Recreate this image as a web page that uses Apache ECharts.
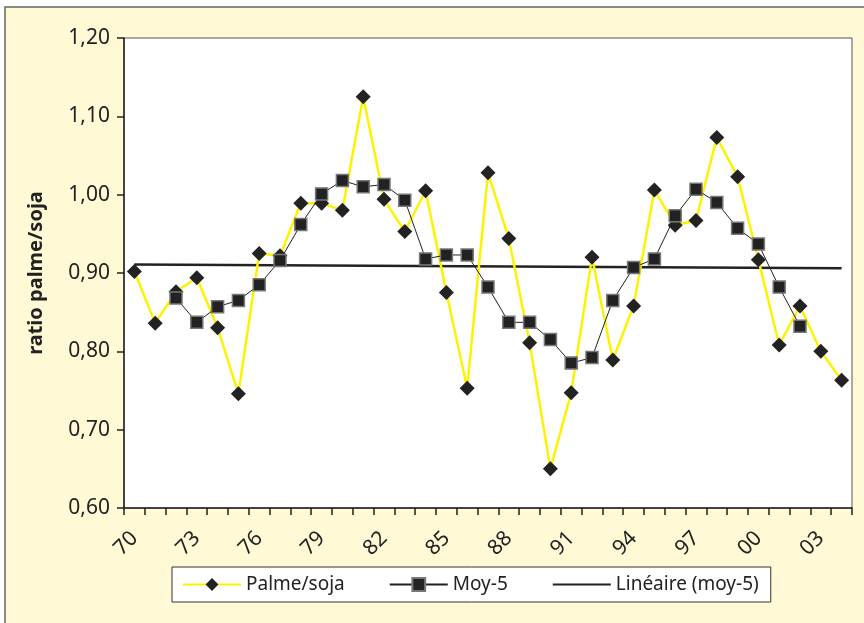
<!DOCTYPE html>
<html><head><meta charset="utf-8">
<script src="https://cdn.jsdelivr.net/npm/echarts@6/dist/echarts.min.js"></script>
<style>html,body{margin:0;padding:0;background:#fff}#c{width:864px;height:623px}</style>
</head><body><div id="c"></div>
<script>
const years = ['70','71','72','73','74','75','76','77','78','79','80','81','82','83','84','85','86','87','88','89','90','91','92','93','94','95','96','97','98','99','00','01','02','03','04'];
const palmeSoja = [0.902,0.836,0.876,0.894,0.830,0.746,0.925,0.922,0.989,0.989,0.980,1.125,0.994,0.953,1.005,0.875,0.753,1.028,0.944,0.811,0.650,0.747,0.920,0.789,0.858,1.006,0.961,0.967,1.073,1.023,0.917,0.808,0.858,0.800,0.763];
const moy5 = [null,null,0.868,0.837,0.857,0.865,0.885,0.916,0.962,1.001,1.018,1.010,1.013,0.993,0.918,0.923,0.923,0.882,0.837,0.837,0.815,0.785,0.792,0.865,0.907,0.918,0.973,1.007,0.990,0.957,0.937,0.882,0.832,null,null];
const trendYears = ['70','04'];
const trendValues = [0.911,0.906];
const yTicks = {min:0.6, max:1.2, interval:0.1};

const FONT = 'Noto Sans';
const chart = echarts.init(document.getElementById('c'));
chart.setOption({
  animation:false,
  backgroundColor:'#ffffff',
  textStyle:{fontFamily:FONT},
  graphic:[{type:'rect',z:-10,shape:{x:5,y:7,width:900,height:700},style:{fill:'#FFF9D6',stroke:'#666',lineWidth:1.5}}],
  grid:{left:124,right:12,top:38,bottom:115,show:true,backgroundColor:'#fff',borderColor:'#555',borderWidth:1},
  legend:{
    left:172, top:567, orient:'horizontal',
    backgroundColor:'#fff', borderColor:'#333', borderWidth:1, borderRadius:0,
    padding:[8,12,8,10], itemGap:44, itemWidth:58, itemHeight:16,
    textStyle:{fontFamily:FONT,fontSize:19,color:'#222'},
    data:['Palme/soja','Moy-5',{name:'Linéaire (moy-5)',itemStyle:{opacity:0}}]
  },
  xAxis:{
    type:'category', data:years, boundaryGap:true,
    axisLine:{lineStyle:{color:'#222',width:1.5}},
    axisTick:{show:true,alignWithLabel:false,interval:0,length:7,lineStyle:{color:'#222',width:1.5}},
    axisLabel:{interval:2,rotate:45,fontSize:21,color:'#222',margin:27,fontFamily:FONT},
    splitLine:{show:false}
  },
  yAxis:{
    type:'value', min:yTicks.min, max:yTicks.max, interval:yTicks.interval,
    name:'ratio palme/soja', nameLocation:'middle', nameGap:78, nameRotate:90,
    nameTextStyle:{fontSize:20,fontWeight:'bold',color:'#222',fontFamily:FONT},
    axisLine:{show:true,lineStyle:{color:'#222',width:1.5}},
    axisTick:{show:true,length:7,lineStyle:{color:'#222',width:1.5}},
    axisLabel:{fontSize:21,color:'#222',margin:14,fontFamily:FONT,formatter:v=>v.toFixed(2).replace('.',',')},
    splitLine:{show:false}
  },
  series:[
    {name:'Palme/soja',type:'line',data:palmeSoja,symbol:'diamond',symbolSize:15,showAllSymbol:true,
     lineStyle:{color:'#FFF200',width:2.5},itemStyle:{color:'#222',borderColor:'#222',borderWidth:0},z:3},
    {name:'Moy-5',type:'line',data:moy5,symbol:'rect',symbolSize:12,showAllSymbol:true,
     lineStyle:{color:'#222',width:1},itemStyle:{color:'#222',borderColor:'#777',borderWidth:1.5},z:4},
    {name:'Linéaire (moy-5)',type:'line',data:trendYears.map((y,i)=>[y,trendValues[i]]),symbol:'none',
     lineStyle:{color:'#222',width:2.5},itemStyle:{color:'#222'},z:2}
  ]
});
</script></body></html>
